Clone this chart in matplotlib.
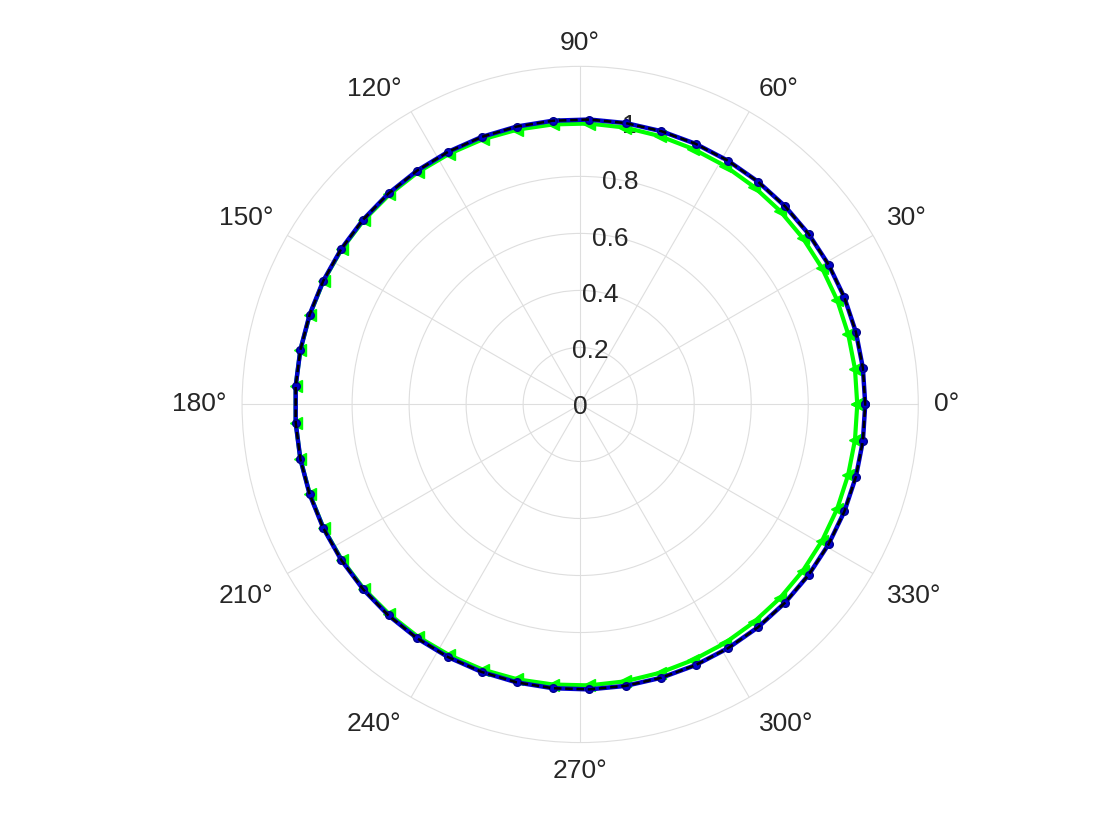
import numpy as np
import matplotlib
matplotlib.use("Agg")
import matplotlib.pyplot as plt
from matplotlib.transforms import offset_copy

plt.rcParams['font.family'] = ['Liberation Sans', 'DejaVu Sans']

# angles: 50 samples from 0 to 360 degrees
theta_deg = np.linspace(0, 360, 50)

# black/blue series (reference) - essentially unit circle
r_ref = [1.000] * 50

# green series
r_green = [0.972, 0.972, 0.972, 0.973, 0.974, 0.975, 0.976, 0.977, 0.979, 0.980,
           0.982, 0.984, 0.986, 0.987, 0.989, 0.991, 0.992, 0.994, 0.995, 0.997,
           0.998, 0.999, 0.999, 1.000, 1.000, 1.000, 1.000, 0.999, 0.999, 0.998,
           0.997, 0.995, 0.994, 0.992, 0.991, 0.989, 0.987, 0.986, 0.984, 0.982,
           0.980, 0.979, 0.977, 0.976, 0.975, 0.974, 0.973, 0.972, 0.972, 0.972]

r_ticks = [0, 0.2, 0.4, 0.6, 0.8, 1]
r_tick_labels = ['0', '0.2', '0.4', '0.6', '0.8', '1']
theta_ticks = list(range(0, 360, 30))
theta_tick_labels = [f'{t}°' for t in theta_ticks]
r_max = 1.186
FS = 19
TXT = '#262626'

fig = plt.figure(figsize=(11.2, 8.4), dpi=100)
ax = fig.add_axes([0.216, 0.116, 0.604, 0.805], projection='polar')

th = np.deg2rad(theta_deg)
ax.plot(th, r_green, color='#00ff00', lw=3, marker='<', ms=8,
        markerfacecolor='#00ff00', markeredgecolor='#00ff00', zorder=3)
ax.plot(th, r_ref, color='#0000cc', lw=3.2, marker='o', ms=5.5,
        markerfacecolor='#0000cc', markeredgecolor='#00008b', zorder=4)
ax.plot(th, r_ref, color='black', lw=1.8, ls='--', dashes=(3, 1.5), zorder=5)

ax.set_ylim(0, r_max)
ax.set_yticks(r_ticks)
ax.set_yticklabels([])
for r, lab in zip(r_ticks, r_tick_labels):
    ax.text(np.deg2rad(80), r, lab, ha='center', va='center_baseline', fontsize=FS,
            color=TXT, zorder=2.6)

ax.set_xticks(np.deg2rad(theta_ticks))
ax.set_xticklabels([])
pad_pt = 8.5
for t, lab in zip(theta_ticks, theta_tick_labels):
    c, s = np.cos(np.deg2rad(t)), np.sin(np.deg2rad(t))
    ha = 'left' if c > 0.1 else ('right' if c < -0.1 else 'center')
    va = 'bottom' if s > 0.1 else ('top' if s < -0.1 else 'center')
    dx = pad_pt * c + (2.5 * np.sign(c) if abs(c) > 0.1 else 0.0)
    dy = pad_pt * s - (3.5 if s < -0.1 else 0.0)
    tr = offset_copy(ax.transData, fig=fig, x=dx, y=dy, units='points')
    ax.text(np.deg2rad(t), r_max, lab, transform=tr, ha=ha, va=va,
            fontsize=FS, color=TXT, clip_on=False)

ax.grid(True, color='#dedede', lw=0.8)
ax.spines['polar'].set_color('#dedede')
ax.spines['polar'].set_linewidth(0.8)

fig.savefig('out.png', dpi=100)
